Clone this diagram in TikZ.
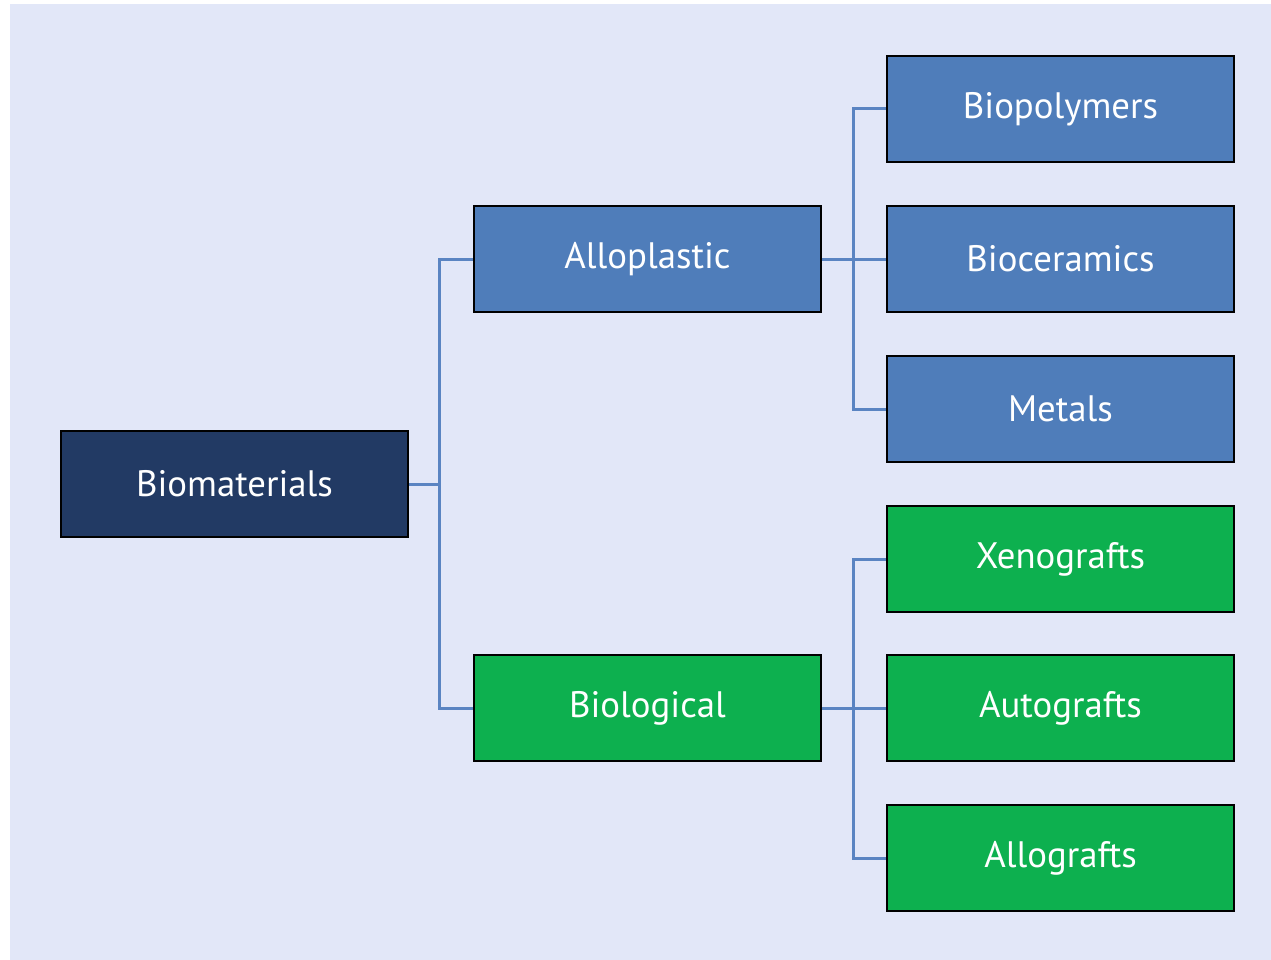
\documentclass[tikz,border=0pt]{standalone}
\usepackage{fontspec}
\setmainfont{PT Sans}
\definecolor{bg}{HTML}{E2E7F8}
\definecolor{navy}{HTML}{223A64}
\definecolor{midblue}{HTML}{4F7DBA}
\definecolor{grn}{HTML}{0DB04F}
\definecolor{conn}{HTML}{5A84C2}
\begin{document}
\begin{tikzpicture}[x=1pt,y=-1pt,
  box/.style={draw=black,line width=2.8pt,minimum width=347pt,minimum height=106pt,inner sep=0pt,text=white,font=\fontsize{36.8}{42}\selectfont},
  lvl0/.style={box,fill=navy},
  bluebox/.style={box,fill=midblue},
  greenbox/.style={box,fill=grn},
  link/.style={draw=conn,line width=3pt}]
\useasboundingbox (0,0) rectangle (1271,960);
\fill[white] (0,0) rectangle (1271,960);
\fill[bg] (10,4) rectangle (1271,960);
\node[lvl0] (bio) at (234.5,484) {Biomaterials};
\node[bluebox] (allo) at (647.5,259) {Alloplastic};
\node[greenbox] (biol) at (647.5,708) {Biological};
\node[bluebox] (poly) at (1060.5,109) {Biopolymers};
\node[bluebox] (cer) at (1060.5,259) {Bioceramics};
\node[bluebox] (met) at (1060.5,409) {Metals};
\node[greenbox] (xeno) at (1060.5,559) {Xenografts};
\node[greenbox] (auto) at (1060.5,708) {Autografts};
\node[greenbox] (allog) at (1060.5,858) {Allografts};
\coordinate (j0) at (439,484);
\coordinate (j1) at (853,259);
\coordinate (j2) at (853,708);
\draw[link] (bio.east) -- (j0);
\draw[link] (j0) |- (allo.west);
\draw[link] (j0) |- (biol.west);
\draw[link] (allo.east) -- (cer.west);
\draw[link] (j1) |- (poly.west);
\draw[link] (j1) |- (met.west);
\draw[link] (biol.east) -- (auto.west);
\draw[link] (j2) |- (xeno.west);
\draw[link] (j2) |- (allog.west);
\end{tikzpicture}
\end{document}
